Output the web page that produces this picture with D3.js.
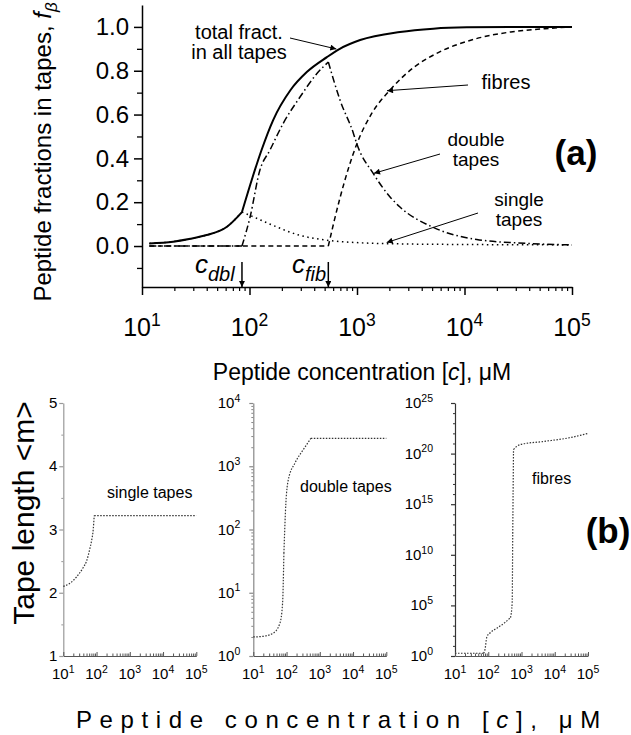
<!DOCTYPE html>
<html><head><meta charset="utf-8">
<script src="https://cdn.jsdelivr.net/npm/d3@7"></script>
<style>body{margin:0;background:#fff}svg{display:block}text{font-family:Arial,"Liberation Sans",sans-serif;fill:#000}</style>
</head><body><svg id="c" width="631" height="735"></svg>
<script>
// ---------- Panel (a) data: peptide fractions vs concentration (uM) ----------
const concTotal = [11.7,19.5,28.2,39.8,61.7,85.1,107,129,166,240,343,525,692,1070,2510,5130,10500,31600,100000];
const fracTotal = [0.012,0.02,0.033,0.05,0.088,0.155,0.315,0.436,0.575,0.711,0.795,0.862,0.90,0.94,0.977,0.992,0.998,1.0,1.0];
const concDouble = [11.7,85.1,101,125,155,206,295,422,541,695,925,993,1420,2030,2510,5130,13000,38000,100000];
const fracDouble = [0,0,0.13,0.347,0.438,0.56,0.68,0.786,0.84,0.666,0.515,0.468,0.33,0.224,0.178,0.085,0.03,0.012,0.005];
const concSingle = [11.7,19.5,28.2,39.8,61.7,85.1,101,164,288,513,1050,3160,10000,100000];
const fracSingle = [0.012,0.02,0.033,0.05,0.088,0.155,0.14,0.095,0.05,0.027,0.015,0.009,0.007,0.005];
const concFibre = [11.7,541,695,1000,1370,2020,3430,5820,12800,27000,56000,100000];
const fracFibre = [0,0,0.22,0.468,0.605,0.711,0.818,0.885,0.946,0.977,0.992,1.0];
const cDbl = 85.1, cFib = 541;
const yTicksA = [0,0.2,0.4,0.6,0.8,1.0];
const yMinorA = [-0.1,0.1,0.3,0.5,0.7,0.9];
const xDecades = [10,100,1000,10000,100000];
const xExps = ["1","2","3","4","5"];

// ---------- Panel (b) data: mean tape length <m> ----------
const concSingleB = [10,15.8,25.1,39.8,50.1,63.1,70.8,79.4,85.1,100000];
const lenSingle = [2.1,2.15,2.25,2.4,2.5,2.7,2.82,3.0,3.22,3.22];
const concDoubleB = [10,20,39.8,63.1,75.9,83.2,95.5,112,178,316,537,100000];
const lenDouble = [2.0,2.05,2.3,3.3,6.8,42,263,600,1120,1820,2750,2750];
const concFibreB = [10,72.4,79.4,91.2,115,182,316,468,525,545,575,708,933,4790,31600,100000];
const lenFibre = [1.86,1.86,4,79,200,562,2000,6300,2e5,1e12,2.5e20,5e20,8e20,1.6e21,4e21,1e22];
const yTicksB1 = [1,2,3,4,5];
const yTicksB2 = [1,10,100,1000,10000];
const yExpB2 = ["0","1","2","3","4"];
const yTicksB3 = [1,1e5,1e10,1e15,1e20,1e25];
const yExpB3 = ["0","5","10","15","20","25"];

const svg = d3.select("#c");
const FONT = 'Arial,"Liberation Sans",sans-serif';

// arrow marker
svg.append("defs").append("marker").attr("id","ah").attr("viewBox","0 0 10 10")
  .attr("refX",10).attr("refY",5).attr("markerWidth",9).attr("markerHeight",6)
  .attr("markerUnits","userSpaceOnUse").attr("orient","auto")
  .append("path").attr("d","M0,0L10,5L0,10z").attr("fill","#000");

const minorLog = [];
for (const d of [10,100,1000,10000]) for (let k=2;k<=9;k++) minorLog.push(d*k);

function zipPts(cs, vs){ return cs.map((c,i)=>({c, v: vs[i]})); }
function drawSeries(g, x, y, cs, vs, breaks, style){
  const pts = zipPts(cs, vs);
  const line = d3.line().x(d=>x(d.c)).y(d=>y(d.v)).curve(d3.curveMonotoneX);
  const idx = [0, ...breaks.map(b=>cs.indexOf(b)).filter(i=>i>0), cs.length-1];
  const segs = [];
  for (let i=0;i<idx.length-1;i++) segs.push(pts.slice(idx[i], idx[i+1]+1));
  segs.forEach(s=>{
    g.append("path").attr("d", line(s)).attr("fill","none")
      .attr("stroke", style.color||"#000").attr("stroke-width", style.w)
      .attr("stroke-dasharray", style.dash||null).attr("stroke-linejoin","round");
  });
}
function supLabel(g, xPos, yPos, base, exp, fs, anchor){
  const t = g.append("text").attr("x",xPos).attr("y",yPos).attr("font-size",fs)
    .attr("text-anchor",anchor||"middle");
  t.append("tspan").text(base);
  t.append("tspan").attr("font-size",fs*0.7).attr("dy",-fs*0.42).text(exp);
  return t;
}

// ================= Panel (a) =================
const xA = d3.scaleLog().domain([10,1e5]).range([142,572]);
const yA = d3.scaleLinear().domain([-0.187,1.1]).range([287,5]);
const gA = svg.append("g");

// y axis
const yAx = gA.append("g").attr("transform","translate(142,0)")
  .call(d3.axisLeft(yA).tickValues(yTicksA).tickSize(8).tickSizeOuter(0).tickFormat(d3.format(".1f")));
yAx.selectAll("text").attr("font-size",24).attr("font-family",FONT).attr("x",-13);
yAx.selectAll("line,path").attr("stroke","#000").attr("stroke-width",1.5);
const yAxm = gA.append("g").attr("transform","translate(142,0)")
  .call(d3.axisLeft(yA).tickValues(yMinorA).tickSize(5).tickFormat(""));
yAxm.select(".domain").remove();
yAxm.selectAll("line").attr("stroke","#000").attr("stroke-width",1.3);

// x axis
const xAx = gA.append("g").attr("transform","translate(0,287)")
  .call(d3.axisBottom(xA).tickValues(xDecades).tickSize(8).tickSizeOuter(0).tickFormat(""));
xAx.selectAll("line,path").attr("stroke","#000").attr("stroke-width",1.5);
const xAxm = gA.append("g").attr("transform","translate(0,287)")
  .call(d3.axisBottom(xA).tickValues(minorLog).tickSize(4).tickFormat(""));
xAxm.select(".domain").remove();
xAxm.selectAll("line").attr("stroke","#000").attr("stroke-width",1.2);
xDecades.forEach((d,i)=> supLabel(gA, xA(d), 336, "10", xExps[i], 25));

// curves
drawSeries(gA, xA, yA, concFibre, fracFibre, [cFib], {w:1.5, dash:"5,3.5"});
drawSeries(gA, xA, yA, concDouble, fracDouble, [cDbl, cFib], {w:1.5, dash:"7,3,1.5,3"});
drawSeries(gA, xA, yA, concSingle, fracSingle, [cDbl], {w:1.5, dash:"1.5,3.5"});
drawSeries(gA, xA, yA, concTotal, fracTotal, [cDbl], {w:2});

// titles
gA.append("text").attr("transform","translate(51,152) rotate(-90)").attr("text-anchor","middle")
  .attr("font-size",24).call(t=>{
    t.append("tspan").text("Peptide fractions in tapes, ");
    t.append("tspan").attr("font-style","italic").text("f");
    t.append("tspan").attr("font-style","italic").attr("font-size",17).attr("dy",6).text("β");
  });
gA.append("text").attr("x",362).attr("y",380).attr("text-anchor","middle").attr("font-size",23)
  .call(t=>{
    t.append("tspan").text("Peptide concentration [");
    t.append("tspan").attr("font-style","italic").text("c");
    t.append("tspan").text("], μM");
  });

// annotations (multi-line notes as one text element with tspans)
function note(g, lines, cx, y0, dy, fs){
  const t = g.append("text").attr("x",cx).attr("y",y0).attr("text-anchor","middle").attr("font-size",fs);
  lines.forEach((s,i)=> t.append("tspan").attr("x",cx).attr("dy", i===0 ? 0 : dy).text(s));
}
function arrow(g, x1,y1,x2,y2, w){
  g.append("line").attr("x1",x1).attr("y1",y1).attr("x2",x2).attr("y2",y2)
    .attr("stroke","#000").attr("stroke-width",w||1).attr("marker-end","url(#ah)");
}
note(gA, ["total fract.","in all tapes"], 239, 39, 20, 20);
arrow(gA, 290,38, xA(cFib)+8, 49);
note(gA, ["fibres"], 506, 89, 20, 20);
arrow(gA, 468,85, 387,90.7);
note(gA, ["double","tapes"], 476, 146, 20, 19);
arrow(gA, 440,154, 374,173.3);
note(gA, ["single","tapes"], 519, 206, 20, 19);
arrow(gA, 478,213, 386.7,242.5);
gA.append("text").attr("x",576).attr("y",165).attr("text-anchor","middle")
  .attr("font-size",35).attr("font-weight","bold").text("(a)");

// c_dbl and c_fib markers
function cMark(g, xc, sub, xText){
  g.append("text").attr("x",xText).attr("y",273).attr("font-size",26).attr("font-style","italic")
    .call(t=>{ t.append("tspan").text("c");
               t.append("tspan").attr("font-size",20).attr("dy",8).text(sub); });
  arrow(g, xc, 262, xc, 287, 1.5);
}
cMark(gA, xA(cDbl), "dbl", 195);
cMark(gA, xA(cFib), "fib", 292);

// ================= Panel (b) =================
const bTop = 403, bBot = 656;
function panelB(x0, yScale, ticks, minorTicks, labFn, axisColor, cs, vs, breaks, label, lx, ly){
  const x = d3.scaleLog().domain([10,1e5]).range([x0, x0+133]);
  const g = svg.append("g");
  const ya = g.append("g").attr("transform",`translate(${x0},0)`)
    .call(d3.axisLeft(yScale).tickValues(ticks).tickSize(4).tickSizeOuter(0).tickFormat(""));
  ya.selectAll("line,path").attr("stroke",axisColor).attr("stroke-width",1.2);
  const ym = g.append("g").attr("transform",`translate(${x0},0)`)
    .call(d3.axisLeft(yScale).tickValues(minorTicks).tickSize(2).tickFormat(""));
  ym.select(".domain").remove();
  ym.selectAll("line").attr("stroke",axisColor).attr("stroke-width",1);
  ticks.forEach((t,i)=> labFn(g, x0, yScale(t), i));
  const xa = g.append("g").attr("transform",`translate(0,${bBot})`)
    .call(d3.axisTop(x).tickValues(xDecades).tickSize(4).tickSizeOuter(0).tickFormat(""));
  xa.selectAll("line,path").attr("stroke","#555").attr("stroke-width",1);
  const xm = g.append("g").attr("transform",`translate(0,${bBot})`)
    .call(d3.axisTop(x).tickValues(minorLog).tickSize(2.5).tickFormat(""));
  xm.select(".domain").remove();
  xm.selectAll("line").attr("stroke","#555").attr("stroke-width",1);
  xDecades.forEach((d,i)=> supLabel(g, x(d), 679, "10", xExps[i], 15));
  drawSeries(g, x, yScale, cs, vs, breaks, {w:1.2, dash:"1.5,1.5", color:"#333"});
  g.append("text").attr("x",lx).attr("y",ly).attr("font-size",16).text(label);
}
const yB1 = d3.scaleLinear().domain([1,5]).range([bBot,bTop]);
panelB(63.3, yB1, yTicksB1, [1.5,2.5,3.5,4.5],
  (g,x0,yy,i)=> g.append("text").attr("x",x0-6).attr("y",yy+5).attr("text-anchor","end")
     .attr("font-size",15).text(yTicksB1[i]),
  "#999", concSingleB, lenSingle, [85.1], "single tapes", 107, 498);

const yB2 = d3.scaleLog().domain([1,1e4]).range([bBot,bTop]);
const minorB2 = []; for (const d of [1,10,100,1000]) for (let k=2;k<=9;k++) minorB2.push(d*k);
panelB(253.3, yB2, yTicksB2, minorB2,
  (g,x0,yy,i)=> supLabel(g, x0-13, yy+5, "10", yExpB2[i], 15, "end"),
  "#888", concDoubleB, lenDouble, [83.2, 537], "double tapes", 300, 492);

const yB3 = d3.scaleLog().domain([1,1e25]).range([bBot,bTop]);
const minorB3 = []; for (let e=1;e<25;e++) if (e%5) minorB3.push(Math.pow(10,e));
panelB(455, yB3, yTicksB3, minorB3,
  (g,x0,yy,i)=> supLabel(g, x0-22, yy+5, "10", yExpB3[i], 15, "end"),
  "#333", concFibreB, lenFibre, [72.4, 468, 575], "fibres", 532, 484);

svg.append("text").attr("x",608).attr("y",543).attr("text-anchor","middle")
  .attr("font-size",35).attr("font-weight","bold").text("(b)");

svg.append("text").attr("transform","translate(34,513) rotate(-90)").attr("text-anchor","middle")
  .attr("font-size",30).text("Tape length <m>");

svg.append("text").attr("x",76).attr("y",728).attr("font-size",24).attr("letter-spacing",7.6)
  .call(t=>{
    t.append("tspan").text("Peptide concentration [");
    t.append("tspan").attr("font-style","italic").text("c");
    t.append("tspan").text("], μM");
  });
</script></body></html>
